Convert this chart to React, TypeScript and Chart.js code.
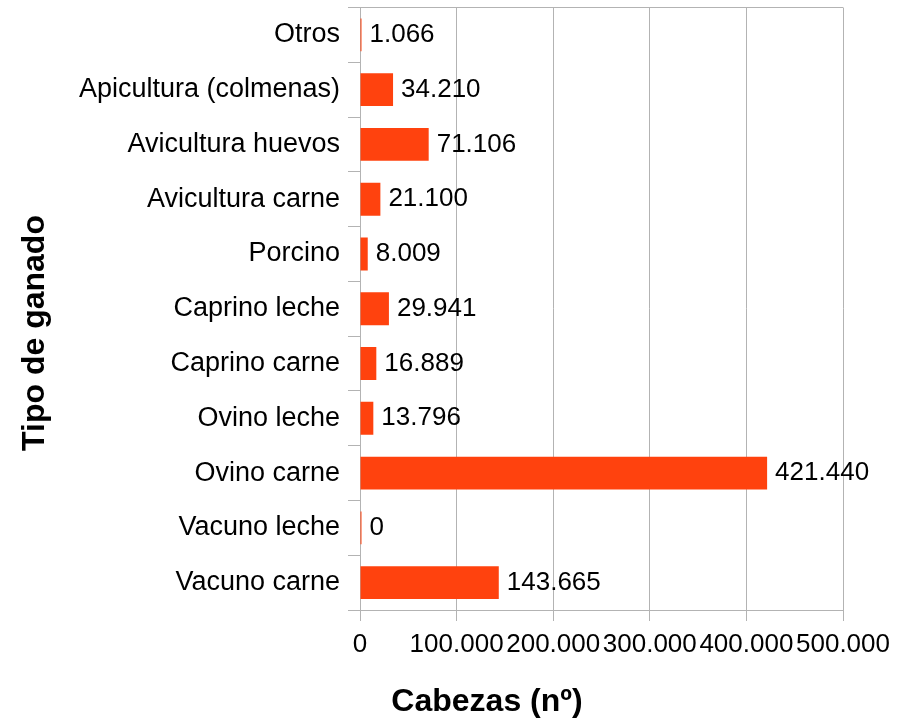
import React, { useEffect, useRef } from 'react';
import { Chart, registerables } from 'chart.js';

Chart.register(...registerables);

const categories = [
  'Otros',
  'Apicultura (colmenas)',
  'Avicultura huevos',
  'Avicultura carne',
  'Porcino',
  'Caprino leche',
  'Caprino carne',
  'Ovino leche',
  'Ovino carne',
  'Vacuno leche',
  'Vacuno carne',
];
const cabezas = [1066, 34210, 71106, 21100, 8009, 29941, 16889, 13796, 421440, 0, 143665];
const xTickValues = [0, 100000, 200000, 300000, 400000, 500000];
const xTitle = 'Cabezas (nº)';
const yTitle = 'Tipo de ganado';

const FONT = '"Liberation Sans", Arial, sans-serif';
const GRID = '#b3b3b3';
const BAR = '#ff420e';

const fmt = (n: number) => String(n).replace(/\B(?=(\d{3})+(?!\d))/g, '.');

const valueLabels = {
  id: 'valueLabels',
  afterDatasetsDraw(chart: any) {
    const ctx = chart.ctx;
    const meta = chart.getDatasetMeta(0);
    const data = chart.data.datasets[0].data as number[];
    ctx.save();
    ctx.font = `26px ${FONT}`;
    ctx.fillStyle = '#000';
    ctx.textAlign = 'left';
    ctx.textBaseline = 'middle';
    meta.data.forEach((el: any, i: number) => {
      ctx.fillText(fmt(data[i]), el.x + 8, el.y);
    });
    ctx.restore();
  },
};

const axisTitles = {
  id: 'axisTitles',
  afterDraw(chart: any) {
    const ctx = chart.ctx;
    ctx.save();
    ctx.font = `bold 32px ${FONT}`;
    ctx.fillStyle = '#000';
    ctx.textAlign = 'center';
    ctx.textBaseline = 'middle';
    ctx.fillText(xTitle, 487, 702);
    ctx.translate(35, 333);
    ctx.rotate(-Math.PI / 2);
    ctx.fillText(yTitle, 0, 0);
    ctx.restore();
  },
};

export default function App() {
  const ref = useRef<HTMLCanvasElement | null>(null);

  useEffect(() => {
    document.body.style.margin = '0';
    if (!ref.current) return;
    const chart = new Chart(ref.current, {
      type: 'bar',
      data: {
        labels: categories,
        datasets: [
          {
            label: xTitle,
            data: cabezas,
            backgroundColor: BAR,
            borderWidth: 0,
            categoryPercentage: 1,
            barPercentage: 0.6,
            minBarLength: 1.5,
          },
        ],
      },
      options: {
        indexAxis: 'y',
        responsive: false,
        animation: false,
        devicePixelRatio: 1,
        layout: { padding: { top: 7.5, right: 66, left: 0, bottom: 0 } },
        plugins: {
          legend: { display: false },
          tooltip: { enabled: false },
        },
        scales: {
          x: {
            type: 'linear',
            min: 0,
            max: 500000,
            afterBuildTicks: (s: any) => {
              s.ticks = xTickValues.map((v) => ({ value: v }));
            },
            afterFit: (s: any) => {
              s.height = 110;
              s.paddingLeft = 0;
              s.paddingRight = 0;
            },
            grid: {
              color: GRID,
              tickColor: GRID,
              lineWidth: 1,
              tickLength: 11,
            },
            border: { color: GRID, width: 1 },
            ticks: {
              autoSkip: false,
              maxRotation: 0,
              minRotation: 0,
              padding: 8,
              color: '#000',
              font: { family: FONT, size: 26 },
              callback: (v: any) => fmt(Number(v)),
            },
          },
          y: {
            type: 'category',
            afterFit: (s: any) => {
              s.width = 360;
              s.paddingTop = 0;
              s.paddingBottom = 0;
            },
            grid: {
              offset: true,
              drawOnChartArea: true,
              color: (c: any) => (c.index === 0 ? GRID : 'rgba(0,0,0,0)'),
              tickColor: GRID,
              tickLength: 12,
              lineWidth: 1,
            },
            border: { color: GRID, width: 1 },
            ticks: {
              autoSkip: false,
              padding: 8,
              color: '#000',
              font: { family: FONT, size: 27 },
            },
          },
        },
      },
      plugins: [valueLabels, axisTitles],
    });
    return () => chart.destroy();
  }, []);

  return (
    <div style={{ position: 'absolute', left: 0, top: 0, width: 909, height: 720, background: '#fff' }}>
      <canvas ref={ref} width={909} height={720} style={{ display: 'block' }} />
    </div>
  );
}
